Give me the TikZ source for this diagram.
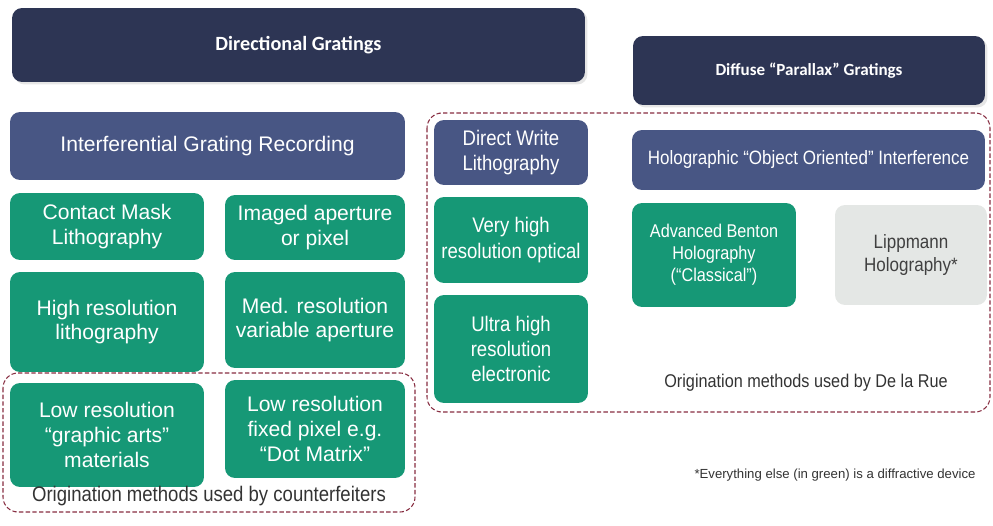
\documentclass[tikz,border=0pt]{standalone}
\usepackage{fontspec}
\setmainfont{Liberation Sans}
\newfontfamily\narrowfont[FakeStretch=0.88]{Liberation Sans}
\newfontfamily\headfont{Carlito}
\usepackage{tikz}
\usetikzlibrary{positioning,shadows}
\usepackage{xcolor}
\definecolor{gratnavy}{RGB}{45,53,84}
\definecolor{gratslate}{RGB}{72,86,132}
\definecolor{gratgreen}{RGB}{22,152,118}
\definecolor{gratgrey}{RGB}{228,231,229}
\definecolor{gratframe}{RGB}{135,45,65}

\begin{document}
\begin{tikzpicture}[x=0.02cm,y=-0.02cm,
    box/.style={rounded corners=0.2cm,align=center,text=white,inner sep=0pt},
    banner/.style={box,fill=gratnavy,drop shadow={opacity=0.2,shadow xshift=0.05cm,shadow yshift=-0.05cm}},
    slatebox/.style={box,fill=gratslate},
    greenbox/.style={box,fill=gratgreen},
    greybox/.style={box,fill=gratgrey,text=black!75},
    wide/.style={font=\fontsize{12}{14}\selectfont},
    narrow/.style={font=\narrowfont\fontsize{#1}{\fpeval{1.2*#1}}\selectfont},
    originframe/.style={draw=gratframe,dash pattern=on 2.5pt off 1.3pt,rounded corners=0.3cm,semithick}]
    \useasboundingbox (0,0) rectangle (993,526);

    % Headings
    \node[banner,font=\headfont\bfseries\fontsize{11.5}{14}\selectfont,minimum width=11.46cm,minimum height=1.48cm] (dirgrat) at (298.5,45) {Directional Gratings};
    \node[banner,font=\headfont\bfseries\fontsize{9.7}{12}\selectfont,minimum width=7.04cm,minimum height=1.38cm] (diffgrat) at (809,70.5) {Diffuse “Parallax” Gratings};

    % Counterfeiter side
    \draw[originframe] (3,373) rectangle (415,512);
    \node[slatebox,wide,minimum width=7.9cm,minimum height=1.36cm] (interf) at (207.5,146) {Interferential Grating Recording};
    \node[greenbox,wide,minimum width=3.88cm,minimum height=1.34cm] (contact) at (107,226.5) {Contact Mask\\Lithography};
    \node[greenbox,wide,minimum width=3.6cm,minimum height=1.3cm] (imaged) at (315,227.5) {Imaged aperture\\or pixel};
    \node[greenbox,wide,minimum width=3.88cm,minimum height=2cm] (highres) at (107,322) {High resolution\\lithography};
    \node[greenbox,wide,minimum width=3.6cm,minimum height=1.92cm] (medres) at (315,320) {Med. resolution\\variable aperture};
    \node[greenbox,wide,minimum width=3.88cm,minimum height=2.08cm] (lowgraph) at (107,435) {Low resolution\\“graphic arts”\\materials};
    \node[greenbox,wide,minimum width=3.6cm,minimum height=1.96cm] (lowpix) at (315,429) {Low resolution\\fixed pixel e.g.\\“Dot Matrix”};
    \node[narrow=12,text=black!80] (countlab) at (209,496) {Origination methods used by counterfeiters};

    % De la Rue side
    \draw[originframe] (427,113) rectangle (990,412);
    \node[slatebox,narrow=12,minimum width=3.08cm,minimum height=1.3cm] (direct) at (511,152.5) {Direct Write\\Lithography};
    \node[greenbox,narrow=12,minimum width=3.08cm,minimum height=1.72cm] (veryhigh) at (511,240) {Very high\\resolution optical};
    \node[greenbox,narrow=12,minimum width=3.08cm,minimum height=2.16cm] (ultra) at (511,349) {Ultra high\\resolution\\electronic};
    \node[slatebox,narrow=11,minimum width=7.06cm,minimum height=1.2cm] (objor) at (808.5,160) {Holographic “Object Oriented” Interference};
    \node[greenbox,narrow=10.5,minimum width=3.28cm,minimum height=2.08cm] (benton) at (714,255) {Advanced Benton\\Holography\\(“Classical”)};
    \node[greybox,narrow=11,minimum width=3.04cm,minimum height=2cm] (lippmann) at (911,255) {Lippmann\\Holography*};
    \node[narrow=10.5,text=black!80] (ruelab) at (806,383) {Origination methods used by De la Rue};

    % Footnote
    \node[font=\fontsize{7.5}{9}\selectfont,text=black!80] (foot) at (835,475) {*Everything else (in green) is a diffractive device};
\end{tikzpicture}
\end{document}
